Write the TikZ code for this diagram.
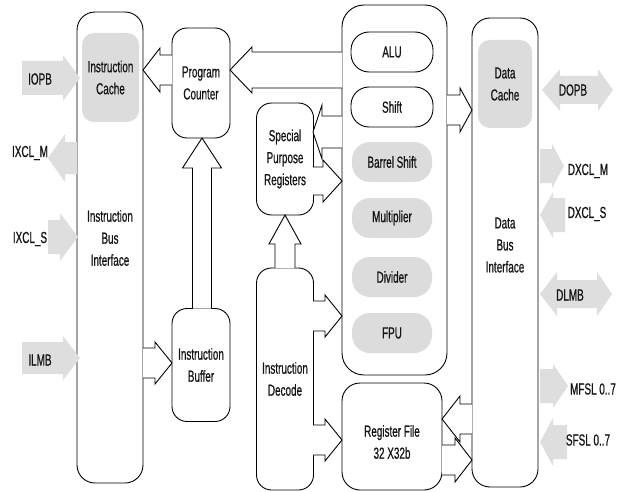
\documentclass[tikz,border=0pt]{standalone}
\usepackage{fontspec}
\setmainfont{Liberation Sans}[FakeStretch=0.62,FakeBold=0.6]
\definecolor{boxgray}{HTML}{DCDCDC}
\definecolor{arrgray}{HTML}{DEDEDE}
\definecolor{inkc}{HTML}{141414}
% horizontal block arrow: style, start x, head base x, tip x, centre y, body half, head half
\newcommand{\hBlk}[7]{\path[#1] (#2,{#5-#6}) -- (#3,{#5-#6}) -- (#3,{#5-#7}) -- (#4,#5) -- (#3,{#5+#7}) -- (#3,{#5+#6}) -- (#2,{#5+#6});}
% vertical block arrow: style, start y, head base y, tip y, centre x, body half, head half
\newcommand{\vBlk}[7]{\path[#1] ({#5-#6},#2) -- ({#5-#6},#3) -- ({#5-#7},#3) -- (#5,#4) -- ({#5+#7},#3) -- ({#5+#6},#3) -- ({#5+#6},#2);}
% double block arrow: style, left tip, left base, right base, right tip, centre y, body half, head half
\newcommand{\dBlk}[8]{\path[#1] (#2,#6) -- (#3,{#6-#8}) -- (#3,{#6-#7}) -- (#4,{#6-#7}) -- (#4,{#6-#8}) -- (#5,#6) -- (#4,{#6+#8}) -- (#4,{#6+#7}) -- (#3,{#6+#7}) -- (#3,{#6+#8}) -- cycle;}
\begin{document}
\begin{tikzpicture}[x=1pt,y=-1pt,
  txt/.style={font=\fontsize{16}{22}\selectfont, text=inkc, align=center, inner sep=0pt},
  blk/.style={draw, line width=0.9pt, fill=white, inner sep=0pt, align=center, font=\fontsize{16}{22}\selectfont, text=inkc},
  gblk/.style={fill=boxgray, inner sep=0pt, align=center, font=\fontsize{16}{22}\selectfont, text=inkc},
  hollow/.style={draw, fill=white, line width=0.9pt, line join=miter},
  garrow/.style={fill=arrgray}]
\useasboundingbox (0,0) rectangle (618,492);
\fill[white] (0,0) rectangle (618,492);

% main blocks
\node[blk, rounded corners=18pt, minimum width=66pt, minimum height=471pt] (ibi) at (110,247.5) {};
\node[gblk, rounded corners=12pt, minimum width=57pt, minimum height=89pt] (ic) at (110.5,77.5) {Instruction\\Cache};
\node[txt] (ibitxt) at (110,238) {Instruction\\Bus\\Interface};

\node[blk, rounded corners=15pt, minimum width=58pt, minimum height=110pt] (pc) at (201,83) {Program\\Counter};
\node[blk, rounded corners=15pt, minimum width=58pt, minimum height=113pt] (ib) at (201,365) {Instruction\\Buffer};
\node[blk, rounded corners=15pt, minimum width=57pt, minimum height=112pt] (spr) at (285,159) {Special\\Purpose\\Registers};
\node[blk, rounded corners=15pt, minimum width=57pt, minimum height=222pt] (id) at (285,379) {Instruction\\Decode};

\node[blk, rounded corners=22pt, minimum width=105pt, minimum height=370pt] (exu) at (394.5,190) {};
\node[blk, rounded corners=18pt, minimum width=82pt, minimum height=40pt] (alu) at (392,52) {ALU};
\node[blk, rounded corners=18pt, minimum width=82pt, minimum height=40pt] (shift) at (392,107) {Shift};
\node[gblk, rounded corners=18pt, minimum width=80pt, minimum height=40pt] (barrel) at (392,162) {Barrel Shift};
\node[gblk, rounded corners=18pt, minimum width=80pt, minimum height=40pt] (mult) at (392,218) {Multiplier};
\node[gblk, rounded corners=18pt, minimum width=80pt, minimum height=40pt] (divd) at (392,277) {Divider};
\node[gblk, rounded corners=18pt, minimum width=80pt, minimum height=40pt] (fpu) at (392,333) {FPU};

\node[blk, rounded corners=18pt, minimum width=100pt, minimum height=107pt] (rf) at (392,436.5) {};
\node[txt] (rftxt) at (392,442) {Register File\\32 X32b};

\node[blk, rounded corners=18pt, minimum width=66pt, minimum height=469pt] (dbi) at (505,252.5) {};
\node[gblk, rounded corners=12pt, minimum width=54pt, minimum height=88pt] (dc) at (505,84) {Data\\Cache};
\node[txt] (dbitxt) at (505,245) {Data\\Bus\\Interface};

% hollow internal buses
\hBlk{hollow}{172}{160}{143}{70}{15}{22}   % PC -> Instruction Cache
\hBlk{hollow}{342}{252}{230}{70}{18}{23}   % Execution -> PC
\vBlk{hollow}{308.5}{168}{138}{202}{9.5}{19.5} % Buffer -> PC
\hBlk{hollow}{143}{155}{172}{363}{15}{21}  % Bus interface -> Buffer
\hBlk{hollow}{342}{322}{313}{132}{16}{27}  % Execution -> SPR
\hBlk{hollow}{313}{323}{342}{181}{14}{21}  % SPR -> Execution
\vBlk{hollow}{268}{244}{215}{285}{10}{16}  % Decode -> SPR
\hBlk{hollow}{447}{460}{472}{110}{15}{22}  % Execution -> Data bus
\hBlk{hollow}{313}{325}{342}{316}{15}{21}  % Decode -> Execution
\hBlk{hollow}{313}{325}{342}{440}{15}{21}  % Decode -> Register file
\hBlk{hollow}{472}{460}{442}{419}{15}{23}  % Data bus -> Register file
\hBlk{hollow}{442}{455}{472}{460}{15}{22}  % Register file -> Data bus

% external gray ports (left)
\hBlk{garrow}{22}{63}{80}{78}{17}{23}
\node[txt] (iopb) at (40,79) {IOPB};
\hBlk{garrow}{77}{65}{48}{158}{16}{24}
\node[txt] (ixclm) at (30,153) {IXCL\_M};
\hBlk{garrow}{48}{60}{78}{237}{17}{24}
\node[txt] (ixcls) at (30,239) {IXCL\_S};
\hBlk{garrow}{22}{63}{80}{358}{16}{22}
\node[txt] (ilmb) at (40,360) {ILMB};

% external gray ports (right)
\dBlk{garrow}{542}{560}{598}{613}{90}{14}{21}
\node[txt] (dopb) at (573,90) {DOPB};
\hBlk{garrow}{540}{552}{564}{166}{17}{22}
\node[txt] (dxclm) at (588,171) {DXCL\_M};
\hBlk{garrow}{565}{553}{540}{215}{17}{23}
\node[txt] (dxcls) at (587,214) {DXCL\_S};
\dBlk{garrow}{540}{557}{597}{612}{294}{14}{22}
\node[txt] (dlmb) at (570,295) {DLMB};
\hBlk{garrow}{540}{553}{568}{386}{17}{22}
\node[txt] (mfsl) at (593,389) {MFSL 0..7};
\hBlk{garrow}{567}{553}{540}{442}{17}{24}
\node[txt] (sfsl) at (588,440) {SFSL 0..7};
\end{tikzpicture}
\end{document}
